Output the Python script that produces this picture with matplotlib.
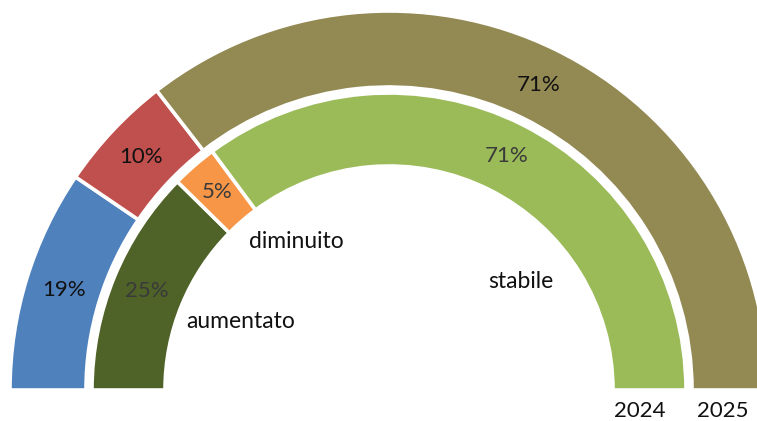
import matplotlib
matplotlib.use("Agg")
import matplotlib.pyplot as plt
import numpy as np

# data
categories = ["aumentato", "diminuito", "stabile"]
years = ["2024", "2025"]
values_2024 = [25, 5, 71]
values_2025 = [19, 10, 71]
colors_2024 = ["#4F6228", "#F79646", "#9BBB59"]
colors_2025 = ["#4F81BD", "#C0504D", "#938953"]

plt.rcParams["font.family"] = ["Lato", "DejaVu Sans"]

W, H = 757, 421
fig = plt.figure(figsize=(W / 100, H / 100), dpi=100)
ax = fig.add_axes([0, 0, 1, 1])

cx, cy = 389, 421 - 390


def half_ring(values, colors, radius, width, pct_r, txt_color):
    # hidden slice = bottom half of the doughnut
    vals = list(values) + [sum(values)]
    cols = list(colors) + ["none"]
    wedges, _ = ax.pie(
        vals,
        colors=cols,
        startangle=180,
        counterclock=False,
        radius=radius,
        center=(cx, cy),
        frame=True,
        wedgeprops=dict(width=width, edgecolor="white", linewidth=2.6),
    )
    wedges[-1].set_edgecolor("none")
    for w, v in zip(wedges[:-1], values):
        mid = np.deg2rad((w.theta1 + w.theta2) / 2)
        ax.text(cx + pct_r * np.cos(mid), cy + pct_r * np.sin(mid), f"{v}%",
                ha="center", va="center", fontsize=16, color=txt_color)


half_ring(values_2025, colors_2025, 379, 76, 340, "#111111")
half_ring(values_2024, colors_2024, 297, 73, 262, "#3a3a3a")

# category labels
cat_pos = [(241, 322), (296, 241), (521, 282)]
for name, (x, y) in zip(categories, cat_pos):
    ax.text(x, H - y, name, ha="center", va="center", fontsize=16.5, color="#111111")

year_pos = [(640, 411), (723, 411)]
for name, (x, y) in zip(years, year_pos):
    ax.text(x, H - y, name, ha="center", va="center", fontsize=16, color="#111111")

ax.set_xlim(0, W)
ax.set_ylim(0, H)
ax.set_aspect("equal")
ax.axis("off")

fig.savefig("out.png", dpi=100, facecolor="white")
